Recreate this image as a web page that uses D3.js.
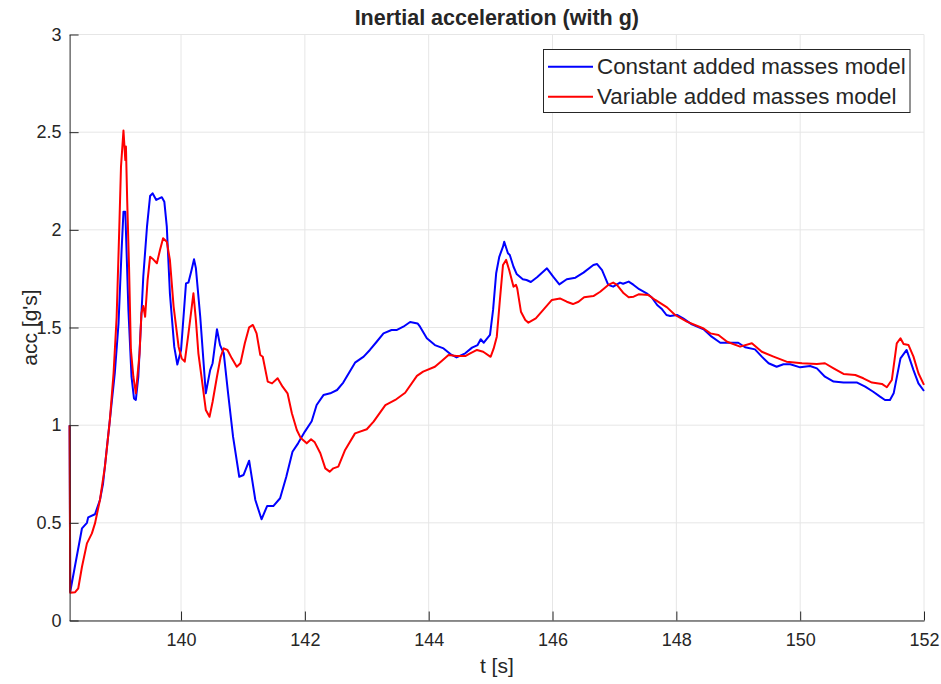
<!DOCTYPE html>
<html><head><meta charset="utf-8">
<script src="https://cdn.jsdelivr.net/npm/d3@7"></script>
<style>body{margin:0;background:#fff} svg{display:block} text{font-family:"Liberation Sans",Arial,Helvetica,sans-serif;fill:#262626}</style>
</head><body><svg id="c" width="941" height="684"></svg>
<script>
// ---- data ----
const tConst = [138.20,138.21,138.40,138.48,138.50,138.61,138.69,138.74,138.85,138.93,138.99,139.04,139.07,139.10,139.15,139.20,139.24,139.27,139.31,139.39,139.45,139.50,139.54,139.60,139.69,139.73,139.77,139.82,139.89,139.94,140.00,140.08,140.12,140.17,140.21,140.24,140.31,140.40,140.47,140.51,140.58,140.63,140.69,140.76,140.84,140.94,141.01,141.10,141.20,141.30,141.39,141.49,141.60,141.70,141.80,141.89,142.00,142.11,142.19,142.30,142.41,142.52,142.62,142.81,142.95,143.05,143.16,143.27,143.40,143.48,143.59,143.70,143.82,143.86,143.97,144.10,144.24,144.35,144.45,144.59,144.70,144.79,144.84,144.89,144.99,145.04,145.09,145.14,145.20,145.22,145.28,145.31,145.37,145.42,145.52,145.58,145.65,145.75,145.91,146.01,146.11,146.23,146.37,146.50,146.66,146.72,146.80,146.90,146.98,147.09,147.14,147.23,147.31,147.40,147.52,147.60,147.69,147.77,147.84,147.90,148.01,148.11,148.25,148.44,148.57,148.71,148.84,149.00,149.11,149.27,149.38,149.49,149.62,149.73,149.84,150.00,150.16,150.27,150.40,150.54,150.70,150.92,151.05,151.18,151.29,151.37,151.45,151.51,151.62,151.72,151.83,151.91,152.00];
const accConst = [1.00,0.147,0.472,0.50,0.528,0.544,0.617,0.70,1.026,1.266,1.52,1.897,2.093,2.093,1.59,1.248,1.137,1.129,1.248,1.76,2.016,2.173,2.187,2.153,2.167,2.144,2.016,1.675,1.402,1.31,1.385,1.726,1.73,1.794,1.849,1.803,1.555,1.163,1.282,1.317,1.491,1.41,1.368,1.163,0.941,0.736,0.745,0.818,0.617,0.518,0.586,0.586,0.626,0.736,0.864,0.907,0.967,1.020,1.103,1.154,1.163,1.180,1.218,1.320,1.351,1.385,1.427,1.470,1.487,1.487,1.504,1.528,1.521,1.504,1.445,1.410,1.393,1.364,1.347,1.368,1.397,1.410,1.440,1.422,1.462,1.590,1.778,1.862,1.914,1.939,1.880,1.871,1.811,1.774,1.747,1.743,1.733,1.757,1.803,1.760,1.721,1.747,1.755,1.781,1.820,1.825,1.794,1.718,1.709,1.730,1.724,1.735,1.718,1.696,1.675,1.655,1.615,1.593,1.564,1.559,1.564,1.547,1.516,1.491,1.453,1.422,1.422,1.422,1.399,1.388,1.351,1.317,1.299,1.312,1.312,1.296,1.303,1.291,1.248,1.223,1.218,1.218,1.197,1.171,1.146,1.129,1.129,1.163,1.342,1.385,1.282,1.214,1.175];
const tVar = [138.20,138.21,138.29,138.34,138.40,138.48,138.56,138.61,138.69,138.77,138.85,138.91,138.96,139.00,139.03,139.07,139.10,139.11,139.13,139.16,139.19,139.23,139.27,139.33,139.36,139.39,139.42,139.46,139.50,139.55,139.61,139.66,139.71,139.77,139.82,139.88,139.96,140.01,140.06,140.12,140.20,140.24,140.28,140.33,140.40,140.46,140.51,140.58,140.64,140.69,140.75,140.82,140.90,140.96,141.03,141.10,141.16,141.22,141.28,141.32,141.40,141.47,141.56,141.64,141.72,141.79,141.87,141.93,142.03,142.10,142.16,142.25,142.33,142.40,142.46,142.54,142.65,142.81,143.00,143.11,143.30,143.46,143.62,143.81,143.91,144.10,144.21,144.32,144.45,144.59,144.67,144.78,144.88,145.00,145.05,145.10,145.15,145.20,145.25,145.30,145.37,145.41,145.43,145.49,145.56,145.61,145.73,145.85,145.99,146.12,146.23,146.33,146.42,146.51,146.66,146.77,146.90,146.98,147.04,147.15,147.23,147.31,147.39,147.55,147.66,147.85,147.98,148.17,148.44,148.55,148.68,148.82,149.03,149.22,149.38,149.57,149.78,150.03,150.27,150.40,150.54,150.70,150.89,151.02,151.16,151.32,151.40,151.48,151.56,151.62,151.67,151.75,151.83,151.91,152.00];
const accVar = [1.00,0.142,0.145,0.165,0.275,0.395,0.446,0.497,0.617,0.787,1.026,1.266,1.555,1.982,2.323,2.508,2.357,2.426,2.153,1.811,1.385,1.248,1.163,1.368,1.573,1.61,1.555,1.743,1.862,1.849,1.829,1.897,1.957,1.939,1.846,1.607,1.402,1.342,1.325,1.470,1.675,1.538,1.368,1.248,1.078,1.043,1.12,1.248,1.35,1.393,1.385,1.342,1.299,1.317,1.419,1.501,1.513,1.470,1.359,1.35,1.223,1.214,1.240,1.197,1.163,1.061,0.975,0.936,0.907,0.928,0.912,0.856,0.779,0.762,0.779,0.788,0.873,0.958,0.979,1.018,1.103,1.129,1.166,1.252,1.274,1.299,1.329,1.359,1.354,1.354,1.368,1.385,1.376,1.35,1.393,1.453,1.641,1.82,1.846,1.794,1.709,1.718,1.70,1.581,1.538,1.525,1.547,1.590,1.641,1.649,1.632,1.620,1.632,1.655,1.661,1.683,1.718,1.730,1.718,1.675,1.655,1.658,1.670,1.666,1.641,1.603,1.564,1.530,1.495,1.470,1.462,1.427,1.402,1.419,1.376,1.351,1.325,1.317,1.313,1.317,1.291,1.262,1.257,1.240,1.218,1.211,1.194,1.231,1.419,1.445,1.416,1.410,1.351,1.266,1.206];
const xTicks = [140,142,144,146,148,150,152];
const yTicks = [0,0.5,1,1.5,2,2.5,3];
const seriesNames = ["Constant added masses model","Variable added masses model"];
const seriesColors = ["#0000ff","#ff0000"];
const titleText = "Inertial acceleration (with g)";
const xLabelText = "t [s]";
const yLabelText = "acc [g's]";

// ---- layout ----
const L = 69.6, R = 924, T = 34.5, B = 620.5;
const svg = d3.select("#c");
const x = d3.scaleLinear().domain([138.2, 152]).range([L, R]);
const y = d3.scaleLinear().domain([0, 3]).range([B, T]);

// grid
const g = svg.append("g");
g.selectAll("line.vx").data(xTicks).join("line")
  .attr("x1", d => x(d)).attr("x2", d => x(d)).attr("y1", T).attr("y2", B)
  .attr("stroke", "#e6e6e6").attr("stroke-width", 1);
g.selectAll("line.hy").data(yTicks).join("line")
  .attr("x1", L).attr("x2", R).attr("y1", d => y(d)).attr("y2", d => y(d))
  .attr("stroke", "#e6e6e6").attr("stroke-width", 1);

// lines
const line = d3.line().x(d => x(d[0])).y(d => y(d[1]));
const dataSets = [d3.zip(tConst, accConst), d3.zip(tVar, accVar)];
dataSets.forEach((ds, i) => {
  svg.append("path").datum(ds).attr("d", line)
    .attr("fill", "none").attr("stroke", seriesColors[i]).attr("stroke-width", 2)
    .attr("stroke-linejoin", "round");
});

// axes
const ax = svg.append("g").attr("transform", `translate(0,${B})`)
  .call(d3.axisBottom(x).tickValues(xTicks).tickFormat(d3.format("d")).tickSizeInner(-9).tickSizeOuter(0).tickPadding(13));
const ay = svg.append("g").attr("transform", `translate(${L},0)`)
  .call(d3.axisLeft(y).tickValues(yTicks).tickFormat(d => String(d)).tickSizeInner(-9).tickSizeOuter(0).tickPadding(8));
[ax, ay].forEach(a => {
  a.select(".domain").attr("stroke", "#262626").attr("stroke-width", 1);
  a.selectAll(".tick line").attr("stroke", "#262626");
  a.selectAll(".tick text").attr("font-size", 18).attr("fill", "#262626")
    .style("font-family", '"Liberation Sans",Arial,sans-serif');
});

// title & labels
svg.append("text").attr("x", (L + R) / 2).attr("y", 25).attr("text-anchor", "middle")
  .attr("font-size", 21.5).attr("font-weight", "bold").attr("fill", "#000").text(titleText);
svg.append("text").attr("x", (L + R) / 2).attr("y", 673).attr("text-anchor", "middle")
  .attr("font-size", 21).text(xLabelText);
const cy = (T + B) / 2;
svg.append("text").attr("x", 37).attr("y", cy)
  .attr("transform", `rotate(-90,37,${cy})`).attr("text-anchor", "middle")
  .attr("font-size", 21).text(yLabelText);

// legend
const lg = svg.append("g");
lg.append("rect").attr("x", 543.5).attr("y", 49.5).attr("width", 366.5).attr("height", 63)
  .attr("fill", "#fff").attr("stroke", "#262626").attr("stroke-width", 1);
seriesNames.forEach((n, i) => {
  const yy = 66.7 + i * 30;
  lg.append("line").attr("x1", 548).attr("x2", 593).attr("y1", yy).attr("y2", yy)
    .attr("stroke", seriesColors[i]).attr("stroke-width", 2);
  lg.append("text").attr("x", 597).attr("y", yy + 7.5).attr("font-size", 22.4).attr("fill", "#000").text(n);
});
</script></body></html>
